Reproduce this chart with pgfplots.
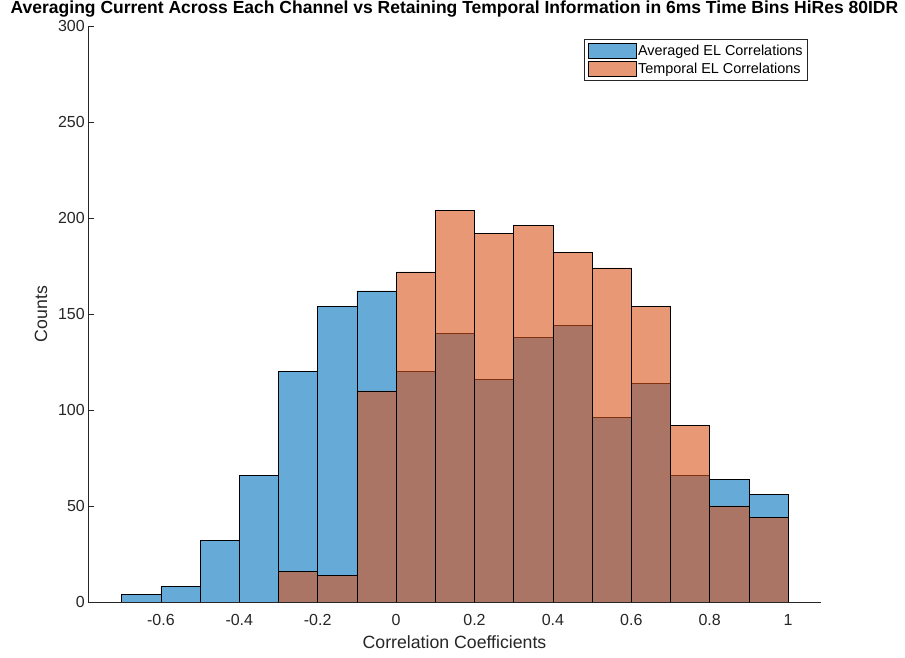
\documentclass[border=0pt]{standalone}
\usepackage{fontspec}
\setmainfont{Liberation Sans}
\usepackage{pgfplots}
\pgfplotsset{compat=1.18}

\definecolor{mblue}{rgb}{0,0.447,0.741}
\definecolor{morange}{rgb}{0.851,0.325,0.098}
\definecolor{axgray}{rgb}{0.15,0.15,0.15}

\begin{document}
\begin{tikzpicture}
\useasboundingbox (0,0) rectangle (905pt,658pt);
\begin{axis}[
  at={(88pt,56pt)}, anchor=south west,
  scale only axis, width=733pt, height=576pt,
  xmin=-0.786, xmax=1.084, ymin=0, ymax=300,
  axis x line*=bottom, axis y line*=left,
  axis line style={axgray, line width=0.6pt},
  tick align=inside, major tick length=6pt,
  tick style={axgray, line width=0.5pt},
  xtick={-0.6,-0.4,-0.2,0,0.2,0.4,0.6,0.8,1},
  xticklabels={-0.6,-0.4,-0.2,0,0.2,0.4,0.6,0.8,1},
  ytick={0,50,100,150,200,250,300},
  yticklabels={0,50,100,150,200,250,300},
  ticklabel style={font=\fontsize{16}{18}\selectfont, text=axgray},
  xticklabel style={anchor=base, yshift=-24pt},
  yticklabel style={inner sep=3pt},
  title={Averaging Current Across Each Channel vs Retaining Temporal Information in 6ms Time Bins HiRes 80IDR},
  title style={at={(axis description cs:0.5,1)}, anchor=base, yshift=6pt,
    font=\fontsize{17.5}{20}\selectfont\bfseries},
  xlabel={Correlation Coefficients},
  xlabel style={at={(axis description cs:0.5,0)}, anchor=base, yshift=-47pt,
    font=\fontsize{17.7}{20}\selectfont, text=axgray},
  ylabel={Counts},
  ylabel style={at={(axis description cs:-0.0559,0.5)}, anchor=base,
    font=\fontsize{17.7}{20}\selectfont, text=axgray},
  legend style={at={(1,1)}, anchor=north east, xshift=-13pt, yshift=-13pt,
    draw=axgray, line width=0.6pt, font=\fontsize{14.4}{16}\selectfont,
    inner xsep=3pt, inner ysep=3.5pt, row sep=2.5pt, cells={anchor=west}},
  legend image code/.code={
    \draw[#1] (0pt,-7.5pt) rectangle (48pt,7.5pt);},
]
% averaged correlations, bin width 0.1
\addplot[ybar interval, fill=mblue, fill opacity=0.6, draw=black, line width=0.5pt]
  coordinates {
    (-0.7,4) (-0.6,8) (-0.5,32) (-0.4,66) (-0.3,120) (-0.2,154) (-0.1,162)
    (0.0,120) (0.1,140) (0.2,116) (0.3,138) (0.4,144) (0.5,96) (0.6,114)
    (0.7,66) (0.8,64) (0.9,56) (1.0,56)
  };
\addlegendentry{Averaged EL Correlations}
% temporal correlations, bin width 0.1
\addplot[ybar interval, fill=morange, fill opacity=0.6, draw=black, line width=0.5pt]
  coordinates {
    (-0.3,16) (-0.2,14) (-0.1,110) (0.0,172) (0.1,204) (0.2,192) (0.3,196)
    (0.4,182) (0.5,174) (0.6,154) (0.7,92) (0.8,50) (0.9,44) (1.0,44)
  };
\addlegendentry{Temporal EL Correlations}
\end{axis}
\end{tikzpicture}
\end{document}
